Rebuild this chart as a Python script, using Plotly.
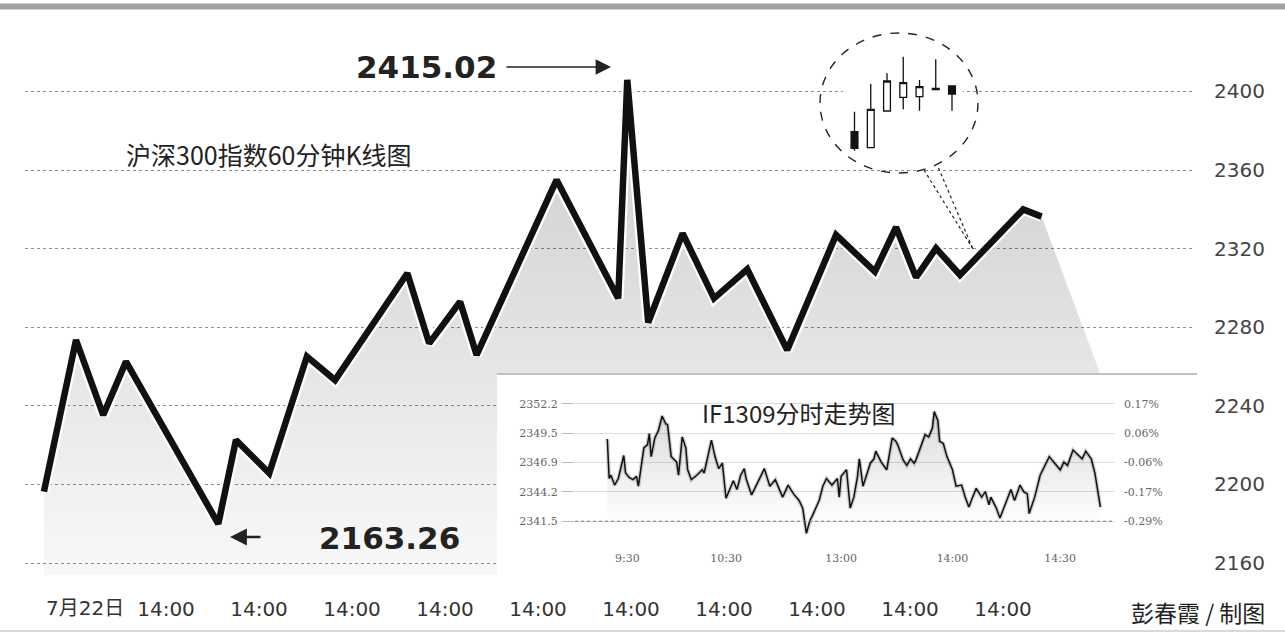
import plotly.graph_objects as go

# ---------------- data ----------------
# 60-minute index path (x in trading hours relative to 7/22 14:00, 4 trading hours per day)
k60_hour = [-5.25, -3.87, -2.70, -1.72, 2.25, 3.01, 4.44, 6.06, 7.27, 10.38, 11.32, 12.65,
            13.36, 16.80, 19.45, 19.84, 20.74, 22.22, 23.57, 25.00, 26.72, 28.82, 30.49,
            31.40, 32.26, 33.12, 34.15, 36.87, 37.66]
k60_close = [2196.3, 2273.5, 2235.3, 2262.5, 2179.9, 2222.6, 2205.7, 2265.1, 2253.1, 2307.5,
             2271.8, 2293.0, 2265.9, 2355.0, 2294.7, 2405.9, 2282.4, 2327.8, 2294.7, 2309.5,
             2268.4, 2327.0, 2308.3, 2330.9, 2305.4, 2320.2, 2306.6, 2340.0, 2336.3]
fill_tail_hour = [40.17]
fill_tail_value = [2256.7]

x_tick_hours = [0, 4, 8, 12, 16, 20, 24, 28, 32, 36]
x_tick_text = ["14:00"] * 10
first_date_label = "7月22日"
y_ticks = [2160, 2200, 2240, 2280, 2320, 2360, 2400]

peak_label = "2415.02"
low_label = "2163.26"
main_title = "沪深300指数60分钟K线图"
inset_title = "IF1309分时走势图"
credit = "彭春霞 / 制图"

# zoomed candlesticks inside the callout circle
candle_idx = [0, 1, 2, 3, 4, 5, 6]
candle_open = [2368.3, 2352.3, 2389.0, 2402.7, 2403.3, 2410.5, 2414.0]
candle_high = [2388.3, 2416.0, 2426.7, 2443.3, 2420.0, 2440.7, 2414.0]
candle_low = [2349.3, 2352.3, 2389.0, 2390.7, 2389.3, 2410.0, 2389.3]
candle_close = [2351.7, 2390.7, 2419.0, 2417.3, 2413.3, 2411.5, 2406.0]

# IF1309 intraday (trading minutes from open)
inset_minutes = [0, 1, 2, 4, 6, 9, 10, 12, 14, 16, 17, 19, 20, 22, 23, 24, 26, 28, 30, 32, 33, 35,
                 38, 39, 41, 43, 44, 46, 49, 52, 53, 57, 59, 61, 63, 65, 67, 69, 71, 73, 75, 76,
                 79, 83, 86, 89, 92, 94, 96, 99, 102, 105, 107, 109, 111, 112, 116, 118, 120,
                 123, 126, 127, 128, 131,
                 133, 135, 137, 138, 140, 144, 146, 147, 150, 153, 156, 158, 159, 162, 164, 166,
                 168, 169, 172, 174, 176, 178, 179, 181, 182, 184, 186, 189, 191, 194, 196, 198,
                 200, 202, 205, 207, 209, 210, 213, 215, 218, 221, 223, 226, 228, 230, 231, 234,
                 237, 240, 242, 245, 248, 250, 252, 255, 258, 260, 262, 265, 267, 268, 270]
inset_price = [2349.0, 2345.4, 2345.7, 2344.8, 2345.4, 2347.5, 2345.9, 2345.5, 2345.3, 2345.6,
               2344.7, 2346.9, 2348.2, 2348.5, 2349.5, 2347.4, 2349.1, 2349.8, 2351.1, 2350.4,
               2350.3, 2347.4, 2346.9, 2345.7, 2349.2, 2348.2, 2346.2, 2345.3, 2345.7, 2346.2,
               2345.9, 2348.9, 2347.4, 2346.3, 2346.8, 2343.6, 2344.4, 2345.2, 2344.4, 2345.7,
               2346.3, 2345.4, 2343.9, 2345.3, 2346.3, 2344.7, 2345.3, 2344.5, 2343.7, 2344.8,
               2344.0, 2343.4, 2342.7, 2340.4, 2341.6, 2341.9, 2343.4, 2344.7, 2345.4, 2344.8,
               2345.4, 2343.7, 2345.6, 2346.2,
               2342.7, 2343.7, 2345.6, 2347.2, 2344.7, 2346.8, 2347.2, 2347.9, 2346.9, 2346.2,
               2349.1, 2348.8, 2348.5, 2347.1, 2346.6, 2347.2, 2346.8, 2347.1, 2348.5, 2349.4,
               2349.2, 2350.0, 2351.5, 2350.7, 2348.8, 2348.6, 2347.4, 2346.2, 2344.7, 2344.8,
               2343.7, 2342.8, 2343.7, 2344.5, 2343.7, 2344.2, 2343.0, 2343.7, 2342.7, 2341.8,
               2343.1, 2344.4, 2343.4, 2344.8, 2344.2, 2344.0, 2342.2, 2343.7, 2345.7, 2346.8,
               2347.4, 2346.8, 2346.2, 2346.9, 2346.6, 2348.0, 2347.5, 2347.2, 2347.9, 2347.2,
               2345.9, 2344.7, 2342.8]
inset_prev_settle = 2348.2
inset_levels = [2341.5, 2344.2, 2346.9, 2349.5, 2352.2]
inset_tick_minutes = [11, 65, 128, 189, 248]
inset_tick_text = ["9:30", "10:30", "13:00", "14:00", "14:30"]

# ---------------- geometry helpers ----------------
W, H = 1285, 633
ML, MR, MT, MB = 25, 90, 20, 58
PW, PH = W - ML - MR, H - MT - MB


def fx(px):
    return (px - ML) / PW


def fy(py):
    return (H - MB - py) / PH


CJK = "Noto Sans CJK SC"
SANS = "DejaVu Sans"
SERIF = "DejaVu Serif"

fig = go.Figure()

# ---- main chart ----
fig.add_trace(go.Scatter(
    x=k60_hour + fill_tail_hour, y=k60_close + fill_tail_value,
    mode="lines", line=dict(width=0), fill="tozeroy",
    fillgradient=dict(type="vertical",
                      colorscale=[[0, "rgba(0,0,0,0.03)"], [1, "rgba(0,0,0,0.20)"]],
                      start=2160, stop=2400),
    hoverinfo="skip", xaxis="x", yaxis="y"))
fig.add_trace(go.Scatter(x=k60_hour, y=k60_close, mode="lines",
                         line=dict(color="white", width=11), hoverinfo="skip"))
fig.add_trace(go.Scatter(x=k60_hour, y=k60_close, mode="lines",
                         line=dict(color="#111111", width=6.5)))

# ---- blank white box behind inset ----
fig.add_trace(go.Scatter(x=[0.5], y=[0.5], mode="markers", marker=dict(opacity=0),
                         hoverinfo="skip", xaxis="x2", yaxis="y2"))

# ---- inset intraday chart ----
fig.add_trace(go.Scatter(
    x=inset_minutes, y=inset_price, mode="lines", line=dict(width=0), fill="tozeroy",
    fillgradient=dict(type="vertical",
                      colorscale=[[0, "rgba(0,0,0,0.0)"], [1, "rgba(0,0,0,0.14)"]],
                      start=2341.0, stop=2351.5),
    hoverinfo="skip", xaxis="x3", yaxis="y3"))
fig.add_trace(go.Scatter(x=inset_minutes, y=inset_price, mode="lines",
                         line=dict(color="rgba(0,0,0,0.18)", width=4),
                         hoverinfo="skip", xaxis="x3", yaxis="y3"))
fig.add_trace(go.Scatter(x=inset_minutes, y=inset_price, mode="lines",
                         line=dict(color="#111111", width=1.5),
                         xaxis="x3", yaxis="y3"))
fig.add_trace(go.Scatter(x=inset_minutes, y=inset_price, mode="lines",
                         line=dict(width=0), opacity=0, hoverinfo="skip",
                         xaxis="x3", yaxis="y4"))

# ---- callout candlesticks ----
fig.add_trace(go.Candlestick(
    x=candle_idx, open=candle_open, high=candle_high, low=candle_low, close=candle_close,
    increasing=dict(line=dict(color="#111111", width=1.3), fillcolor="white"),
    decreasing=dict(line=dict(color="#111111", width=1.3), fillcolor="#111111"),
    whiskerwidth=0, xaxis="x4", yaxis="y5", hoverinfo="skip"))

# ---------------- layout ----------------
hide = dict(showgrid=False, zeroline=False, showline=False, showticklabels=False,
            ticks="", fixedrange=True)

layout = dict(
    width=W, height=H,
    margin=dict(l=ML, r=MR, t=MT, b=MB, pad=0),
    paper_bgcolor="white", plot_bgcolor="white",
    showlegend=False, boxgap=0.4,
    xaxis=dict(domain=[0, 1], range=[(ML - 166) * 4 / 93, (W - MR - 166) * 4 / 93],
               tickvals=x_tick_hours, ticktext=x_tick_text, showgrid=False,
               zeroline=False, showline=False, ticks="",
               tickfont=dict(family=SANS, size=20, color="#333333"),
               ticklabelstandoff=20, anchor="y"),
    yaxis=dict(domain=[0, 1], range=[2153.89, 2436.39], side="right", tickvals=y_ticks,
               showgrid=True, gridcolor="#8c8c8c", griddash="dot", gridwidth=1,
               zeroline=False, showline=False, ticks="",
               tickfont=dict(family=SANS, size=20, color="#444444"),
               ticklabelstandoff=18, anchor="x"),
    xaxis2=dict(domain=[fx(497), 1.0], range=[0, 1], anchor="y2", **hide),
    yaxis2=dict(domain=[0, fy(375)], range=[0, 1], anchor="x2", **hide),
    xaxis3=dict(domain=[fx(575), fx(1115)], range=[-17.7, 278.0], anchor="y3",
                tickvals=inset_tick_minutes, ticktext=inset_tick_text,
                showgrid=False, zeroline=False, showline=False, ticks="",
                tickfont=dict(family=SERIF, size=11, color="#666666"),
                ticklabelstandoff=10),
    yaxis3=dict(domain=[fy(540), fy(395)], range=[2339.79, 2353.02], anchor="x3",
                tickvals=inset_levels, ticktext=[f"{v:.1f}" for v in inset_levels],
                showgrid=True, gridcolor="#dcdcdc", gridwidth=1, zeroline=False,
                showline=False, ticks="outside", ticklen=12, tickcolor="#bbbbbb",
                tickfont=dict(family=SERIF, size=11, color="#666666"),
                ticklabelstandoff=2),
    yaxis4=dict(overlaying="y3", side="right", anchor="x3", range=[2339.79, 2353.02],
                tickvals=inset_levels,
                ticktext=[f"{(v / inset_prev_settle - 1) * 100:.2f}%" for v in inset_levels],
                showgrid=False, zeroline=False, showline=False, ticks="",
                tickfont=dict(family=SERIF, size=11, color="#666666"),
                ticklabelstandoff=8),
    xaxis4=dict(domain=[fx(843), fx(963)], range=[-0.708, 6.677], anchor="y5",
                rangeslider=dict(visible=False), **hide),
    yaxis5=dict(domain=[fy(155), fy(50)], range=[2345, 2450], anchor="x4", **hide),
)
fig.update_layout(**layout)

# ---------------- shapes ----------------
shapes = [
    # top grey rule
    dict(type="rect", xref="paper", yref="paper", x0=fx(0), x1=fx(W), y0=fy(9.5), y1=fy(3.5),
         fillcolor="#a2a2a2", line=dict(width=0)),
    # bottom thin rule
    dict(type="line", xref="paper", yref="paper", x0=fx(0), x1=fx(W), y0=fy(631), y1=fy(631),
         line=dict(color="#dadada", width=2)),
    # inset box top border
    dict(type="line", xref="paper", yref="paper", x0=fx(497), x1=fx(1197), y0=fy(374),
         y1=fy(374), line=dict(color="#c2c2c2", width=2)),
    # inset dotted baseline
    dict(type="line", xref="x3", yref="y3", x0=-17.7, x1=278.0, y0=inset_levels[0],
         y1=inset_levels[0], line=dict(color="#777777", width=1.2, dash="dot")),
    # callout circle
    dict(type="circle", xref="paper", yref="paper", x0=fx(820), x1=fx(978), y0=fy(173),
         y1=fy(33), line=dict(color="#222222", width=1.4, dash="dash")),
    # callout pointer
    dict(type="line", xref="paper", yref="paper", x0=fx(924), y0=fy(170), x1=fx(973),
         y1=fy(249), line=dict(color="#222222", width=1.2, dash="dot")),
    dict(type="line", xref="paper", yref="paper", x0=fx(938.5), y0=fy(168), x1=fx(973),
         y1=fy(249), line=dict(color="#222222", width=1.2, dash="dot")),
]
fig.update_layout(shapes=shapes)

# ---------------- annotations ----------------
ann = [
    dict(text=main_title, x=fx(269), y=fy(154), xref="paper", yref="paper",
         showarrow=False, xanchor="center", yanchor="middle",
         font=dict(family=CJK, size=25, color="#222222")),
    dict(text=inset_title, x=fx(798.5), y=fy(412), xref="paper", yref="paper",
         showarrow=False, xanchor="center", yanchor="middle",
         font=dict(family=CJK, size=24, color="#222222")),
    dict(text=first_date_label, x=fx(126), y=fy(608), xref="paper", yref="paper",
         showarrow=False, xanchor="right", yanchor="middle",
         font=dict(family=SANS + ", " + CJK, size=20, color="#333333")),
    dict(text=credit, x=fx(1198), y=fy(612), xref="paper", yref="paper",
         showarrow=False, xanchor="center", yanchor="middle",
         font=dict(family=CJK, size=23, color="#222222")),
    dict(text="<b>" + peak_label + "</b>", x=fx(426.5), y=fy(67), xref="paper", yref="paper",
         showarrow=False, xanchor="center", yanchor="middle",
         font=dict(family=SANS, size=31, color="#222222")),
    dict(text="<b>" + low_label + "</b>", x=fx(389), y=fy(538), xref="paper", yref="paper",
         showarrow=False, xanchor="center", yanchor="middle",
         font=dict(family=SANS, size=31, color="#222222")),
    dict(text="", x=fx(611), y=fy(67), xref="paper", yref="paper", showarrow=True,
         ax=-106, ay=0, arrowhead=2, arrowsize=2.2, arrowwidth=1.4, arrowcolor="#222222",
         standoff=0, startstandoff=0),
    dict(text="", x=fx(230), y=fy(537), xref="paper", yref="paper", showarrow=True,
         ax=32, ay=0, arrowhead=2, arrowsize=1.3, arrowwidth=2.6, arrowcolor="#222222",
         standoff=0, startstandoff=0),
]
fig.update_layout(annotations=ann)

fig.write_html("out.html")
